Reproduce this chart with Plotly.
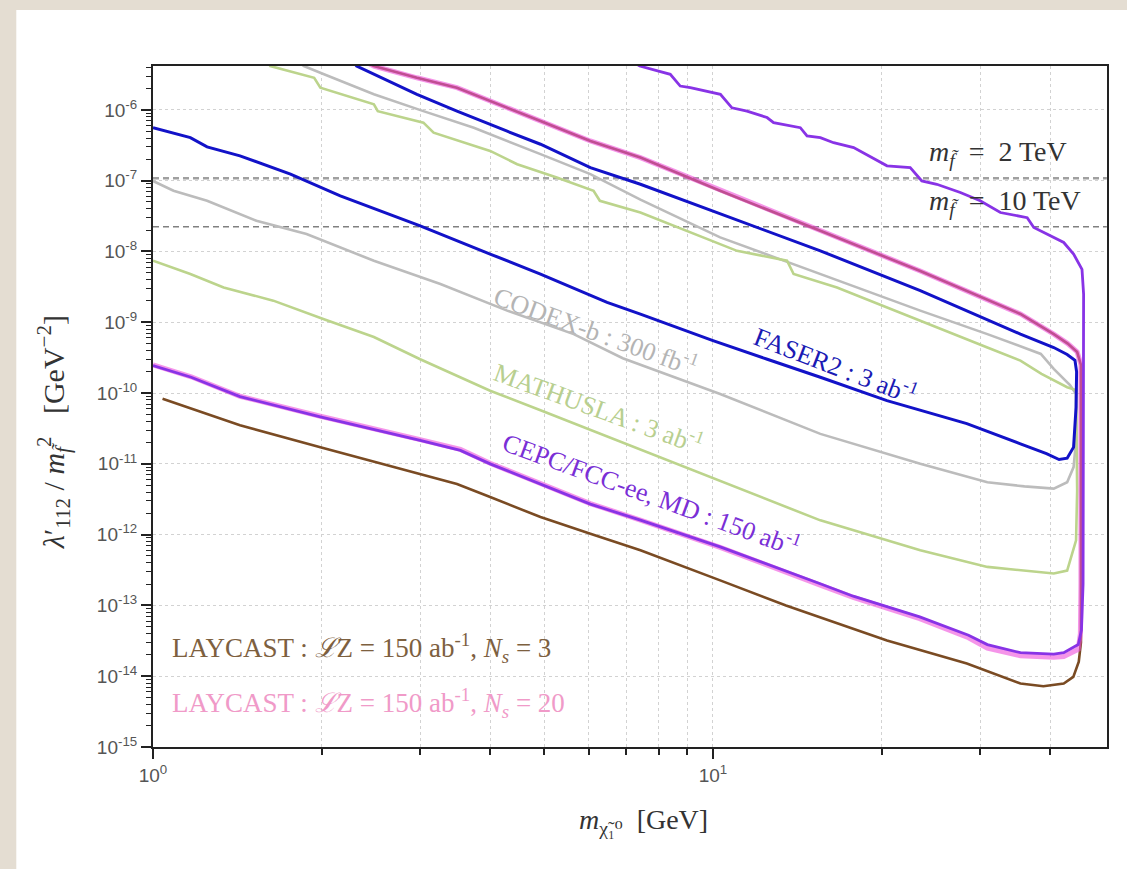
import plotly.graph_objects as go

# ---------------- data (x: neutralino mass [GeV], y: lambda'/m^2 [GeV^-2]) ----------------
# CEPC/FCC-ee, MD : 150 ab^-1 (purple) -- lower and upper branches
CEPC_LO_M = [1.0, 1.17, 1.43, 1.99, 3.0, 3.54, 4.0, 4.92, 6.04, 7.42, 10.3, 15.5, 17.8, 23.4, 28.6, 30.9, 35.4, 40.6, 42.3, 44.9, 45.5, 45.8]
CEPC_LO_Y = [2.44e-10, 1.67e-10, 8.9e-11, 4.6e-11, 2.14e-11, 1.55e-11, 1.0e-11, 5.2e-12, 2.7e-12, 1.6e-12, 6.7e-13, 2.04e-13, 1.35e-13, 6.9e-14, 3.8e-14, 2.8e-14, 2.15e-14, 2.05e-14, 2.15e-14, 2.8e-14, 4.5e-14, 2.0e-13]
CEPC_UP_M = [7.0, 7.40, 8.39, 8.74, 9.11, 10.31, 10.81, 11.5, 12.49, 12.83, 14.32, 14.72, 15.55, 16.42, 17.83, 20.45, 22.5, 23.6, 25.1, 27.65, 30.0, 32.6, 36.4, 37.4, 40.6, 42.3, 44.05, 45.6, 45.9]
CEPC_UP_Y = [5.5e-6, 4.16e-6, 3.18e-6, 2.17e-6, 2.06e-6, 1.66e-6, 1.07e-6, 9.6e-7, 7.8e-7, 6.6e-7, 5.6e-7, 4.3e-7, 4.06e-7, 3.44e-7, 2.93e-7, 1.62e-7, 1.53e-7, 9.9e-8, 8.9e-8, 6.8e-8, 5.2e-8, 3.55e-8, 3.0e-8, 2.18e-8, 1.57e-8, 1.34e-8, 9.2e-9, 5.6e-9, 2.5e-9]

# LAYCAST N_s = 20 (pink)
L20_LO_M = [1.0, 1.17, 1.43, 1.99, 3.0, 3.54, 4.0, 4.92, 6.04, 7.42, 10.3, 15.5, 17.8, 23.4, 28.6, 30.9, 35.4, 40.6, 42.3, 44.9, 45.3, 45.4]
L20_LO_Y = [2.5e-10, 1.7e-10, 9.0e-11, 4.7e-11, 2.2e-11, 1.6e-11, 1.02e-11, 5.3e-12, 2.75e-12, 1.6e-12, 6.6e-13, 1.95e-13, 1.3e-13, 6.5e-14, 3.5e-14, 2.5e-14, 1.95e-14, 1.85e-14, 1.9e-14, 2.4e-14, 4.0e-14, 2.0e-13]
L20_UP_M = [2.3, 2.48, 2.96, 3.49, 4.0, 4.92, 6.04, 7.42, 10.3, 15.55, 23.45, 35.4, 40.6, 43.0, 44.7, 45.4]
L20_UP_Y = [5.6e-6, 4.16e-6, 2.84e-6, 2.06e-6, 1.33e-6, 6.97e-7, 3.64e-7, 2.12e-7, 7.2e-8, 1.96e-8, 5.3e-9, 1.31e-9, 6.8e-10, 5.0e-10, 3.8e-10, 2.5e-10]

# LAYCAST N_s = 3 (brown)
L3_LO_M = [1.04, 1.43, 1.99, 3.0, 3.49, 4.0, 4.92, 6.04, 7.42, 10.3, 13.5, 20.45, 28.4, 35.4, 38.9, 42.3, 44.0, 45.0, 45.4]
L3_LO_Y = [8.3e-11, 3.5e-11, 1.72e-11, 7.2e-12, 5.2e-12, 3.4e-12, 1.77e-12, 1.03e-12, 6.0e-13, 2.26e-13, 1.0e-13, 3.2e-14, 1.51e-14, 7.9e-15, 7.2e-15, 7.9e-15, 9.8e-15, 1.6e-14, 3.0e-14]
L3_UP_M = [2.3, 2.48, 2.96, 3.49, 4.0, 4.92, 6.04, 7.42, 10.3, 15.55, 23.45, 35.4, 40.6, 43.0, 44.7, 45.4]
L3_UP_Y = [5.6e-6, 4.16e-6, 2.84e-6, 2.06e-6, 1.33e-6, 6.97e-7, 3.64e-7, 2.12e-7, 7.2e-8, 1.96e-8, 5.3e-9, 1.31e-9, 6.8e-10, 5.0e-10, 3.8e-10, 2.5e-10]

# FASER2 : 3 ab^-1 (blue)
FASER_LO_M = [1.0, 1.166, 1.249, 1.43, 1.76, 2.16, 3.0, 3.54, 4.0, 4.92, 6.47, 7.42, 10.0, 12.5, 15.55, 20.45, 28.4, 35.4, 39.4, 41.5, 42.9, 44.05, 44.5, 44.6]
FASER_LO_Y = [5.6e-7, 4.06e-7, 3.0e-7, 2.24e-7, 1.24e-7, 6.1e-8, 2.3e-8, 1.34e-8, 9.2e-9, 4.8e-9, 1.91e-9, 1.3e-9, 5.5e-10, 3.0e-10, 1.67e-10, 7.8e-11, 3.7e-11, 1.92e-11, 1.39e-11, 1.15e-11, 1.2e-11, 1.72e-11, 6.3e-11, 2.0e-10]
FASER_UP_M = [2.25, 2.31, 2.48, 2.96, 3.49, 4.29, 4.92, 6.04, 7.42, 10.3, 15.55, 23.45, 35.4, 40.6, 42.9, 44.3, 44.6]
FASER_UP_Y = [5.5e-6, 4.16e-6, 3.18e-6, 1.66e-6, 9.6e-7, 5.0e-7, 3.27e-7, 1.53e-7, 8.9e-8, 3.37e-8, 1.02e-8, 2.8e-9, 6.8e-10, 4.4e-10, 3.5e-10, 2.9e-10, 2.0e-10]

# CODEX-b : 300 fb^-1 (grey)
CODEX_LO_M = [1.0, 1.088, 1.249, 1.53, 1.88, 2.48, 3.26, 4.29, 5.64, 6.9, 10.3, 15.55, 23.45, 30.9, 36.0, 40.6, 42.9, 44.05, 44.5]
CODEX_LO_Y = [9.9e-8, 7.2e-8, 5.2e-8, 2.71e-8, 1.76e-8, 7.4e-9, 3.47e-9, 1.46e-9, 6.8e-10, 3.1e-10, 9.7e-11, 2.65e-11, 1.0e-11, 5.5e-12, 4.8e-12, 4.46e-12, 5.5e-12, 9.0e-12, 2.14e-11]
CODEX_UP_M = [1.78, 1.86, 2.02, 2.48, 3.04, 3.74, 4.92, 6.04, 7.42, 10.3, 15.55, 23.45, 30.9, 38.5, 40.6, 43.4, 44.5]
CODEX_UP_Y = [5.5e-6, 4.16e-6, 3.18e-6, 1.66e-6, 9.6e-7, 5.6e-7, 2.37e-7, 1.24e-7, 5.4e-8, 1.58e-8, 4.8e-9, 1.46e-9, 6.8e-10, 3.57e-10, 2.2e-10, 1.3e-10, 9.7e-11]

# MATHUSLA : 3 ab^-1 (light green)
MATH_LO_M = [1.0, 1.166, 1.337, 1.64, 2.02, 2.48, 3.0, 4.0, 4.92, 7.42, 10.3, 15.55, 23.45, 30.9, 40.6, 42.9, 44.5, 44.7]
MATH_LO_Y = [7.4e-9, 4.8e-9, 3.1e-9, 2.02e-9, 1.1e-9, 6.2e-10, 3.0e-10, 1.08e-10, 5.7e-11, 1.6e-11, 5.8e-12, 1.59e-12, 6.0e-13, 3.5e-13, 2.82e-13, 3.1e-13, 8.3e-13, 4.2e-12]
MATH_UP_M = [1.58, 1.62, 1.94, 1.99, 2.48, 2.52, 3.04, 3.17, 4.0, 4.47, 5.26, 6.12, 6.28, 7.42, 7.83, 8.99, 11.04, 13.56, 13.93, 16.65, 20.45, 25.1, 30.9, 35.4, 38.6, 42.9, 44.5]
MATH_UP_Y = [5.5e-6, 4.16e-6, 2.84e-6, 2.06e-6, 1.2e-6, 9.6e-7, 6.6e-7, 4.76e-7, 2.63e-7, 1.71e-7, 1.11e-7, 7.2e-8, 5.2e-8, 3.55e-8, 3.0e-8, 1.96e-8, 1.02e-8, 7.4e-9, 4.8e-9, 3.1e-9, 1.62e-9, 8.5e-10, 4.4e-10, 2.87e-10, 1.87e-10, 1.21e-10, 1.1e-10]

# reference lines for sfermion masses
DASH_M = [1.0, 50.5]
DASH_2TEV = 1.08e-7
DASH_10TEV = 2.23e-8

# axis ticks
X_TICKVALS = [1, 10]
X_TICKTEXT = ["10<sup>0</sup>", "10<sup>1</sup>"]
Y_EXPS = list(range(-15, -5))
Y_TICKVALS = [10.0 ** e for e in Y_EXPS]
Y_TICKTEXT = ["10<sup>%d</sup>" % e for e in Y_EXPS]
X_MINOR = [2, 3, 4, 5, 6, 7, 8, 9, 20, 30, 40]
Y_MINOR = [d * 10.0 ** e for e in range(-15, -5) for d in range(2, 10)]


def contour(lo_m, lo_y, up_m, up_y):
    return lo_m + up_m[::-1], lo_y + up_y[::-1]


fig = go.Figure()

for yv, col, w in [(DASH_2TEV, "#a0a0a0", 2.4), (DASH_10TEV, "#808080", 1.6)]:
    fig.add_trace(go.Scatter(x=DASH_M, y=[yv, yv], mode="lines",
                             line=dict(color=col, width=w, dash="6px,4px"),
                             showlegend=False, hoverinfo="skip"))

series = [
    (CODEX_LO_M, CODEX_LO_Y, CODEX_UP_M, CODEX_UP_Y, "#bcbcbc", 2.6, 1.0),
    (MATH_LO_M, MATH_LO_Y, MATH_UP_M, MATH_UP_Y, "#bcd48c", 2.6, 1.0),
    (FASER_LO_M, FASER_LO_Y, FASER_UP_M, FASER_UP_Y, "#1212c8", 3.0, 1.0),
    (L3_LO_M, L3_LO_Y, L3_UP_M, L3_UP_Y, "#7a4b23", 2.6, 1.0),
    (L20_LO_M, L20_LO_Y, L20_UP_M, L20_UP_Y, "#f050dc", 5.0, 0.6),
    (CEPC_LO_M, CEPC_LO_Y, CEPC_UP_M, CEPC_UP_Y, "#8833e6", 2.8, 1.0),
]
for lo_m, lo_y, up_m, up_y, col, w, op in series:
    xs, ys = contour(lo_m, lo_y, up_m, up_y)
    fig.add_trace(go.Scatter(x=xs, y=ys, mode="lines", opacity=op,
                             line=dict(color=col, width=w),
                             showlegend=False, hoverinfo="skip"))

SERIF = "Liberation Serif, Times New Roman, DejaVu Serif, serif"

labels = [
    ("CODEX-b : 300 fb<sup>-1</sup>", 0.7916, -9.119, "#b4b4b4", 20),
    ("FASER2 : 3 ab<sup>-1</sup>", 1.2184, -9.598, "#1a1ab4", 21),
    ("MATHUSLA : 3 ab<sup>-1</sup>", 0.797, -10.205, "#b8cf90", 20),
    ("CEPC/FCC-ee, MD : 150 ab<sup>-1</sup>", 0.890, -11.418, "#7a2fd6", 20),
]
for txt, lx, ly, col, ang in labels:
    fig.add_annotation(x=lx, y=ly, xref="x", yref="y", text=txt, showarrow=False,
                       textangle=ang, xanchor="center", yanchor="middle",
                       font=dict(family=SERIF, size=26, color=col))

fig.add_annotation(x=1.383, y=-6.622, xref="x", yref="y",
                   text="<i>m</i><sub><i>f̃</i></sub>  =  2 TeV", showarrow=False,
                   xanchor="left", yanchor="middle", font=dict(family=SERIF, size=28, color="#333333"))
fig.add_annotation(x=1.383, y=-7.313, xref="x", yref="y",
                   text="<i>m</i><sub><i>f̃</i></sub>  =  10 TeV", showarrow=False,
                   xanchor="left", yanchor="middle", font=dict(family=SERIF, size=28, color="#333333"))

fig.add_annotation(x=0.0309, y=-13.604, xref="x", yref="y",
                   text="LAYCAST : <i>ℒ</i>Z = 150 ab<sup>-1</sup>, <i>N</i><sub><i>s</i></sub> = 3",
                   showarrow=False, xanchor="left", yanchor="middle",
                   font=dict(family=SERIF, size=27, color="#7d603f"))
fig.add_annotation(x=0.0309, y=-14.379, xref="x", yref="y",
                   text="LAYCAST : <i>ℒ</i>Z = 150 ab<sup>-1</sup>, <i>N</i><sub><i>s</i></sub> = 20",
                   showarrow=False, xanchor="left", yanchor="middle",
                   font=dict(family=SERIF, size=27, color="#f09ac8"))

# axis titles
fig.add_annotation(x=0.514, y=-0.110, xref="paper", yref="paper",
                   text="<i>m</i><sub>χ̃₁⁰</sub>  [GeV]", showarrow=False,
                   xanchor="center", yanchor="middle", font=dict(family=SERIF, size=28, color="#333333"))
fig.add_annotation(x=-0.1035, y=0.4626, xref="paper", yref="paper",
                   text="<i>λ</i>′<sub>112</sub> / <i>m</i><sub><i>f̃</i></sub><sup>2</sup>   [GeV<sup>−2</sup>]",
                   showarrow=False, textangle=-90, xanchor="center", yanchor="middle",
                   font=dict(family=SERIF, size=30, color="#333333"))

# beige frame bands
BEIGE = "#e4ddd2"
fig.add_shape(type="rect", xref="paper", yref="paper", x0=-0.161, x1=1.03, y0=1.0822, y1=1.1,
              fillcolor=BEIGE, line=dict(width=0), layer="below")
fig.add_shape(type="rect", xref="paper", yref="paper", x0=-0.161, x1=-0.1433, y0=-0.185, y1=1.1,
              fillcolor=BEIGE, line=dict(width=0), layer="below")

grid_col = "#d2d2d2"
fig.update_xaxes(type="log", range=[0, 1.7036], tickmode="array", tickvals=X_TICKVALS, ticktext=X_TICKTEXT,
                 ticks="outside", ticklen=10, tickwidth=2, tickcolor="#222",
                 showline=True, linecolor="#222", linewidth=2, mirror=True,
                 showgrid=True, gridcolor=grid_col, griddash="dot", gridwidth=1,
                 tickfont=dict(family="Arial, Liberation Sans, sans-serif", size=19, color="#555"),
                 minor=dict(tickmode="array", tickvals=X_MINOR, ticks="outside", ticklen=6,
                            tickcolor="#222", tickwidth=1.5, showgrid=True, gridcolor=grid_col,
                            griddash="dot", gridwidth=1),
                 zeroline=False)
fig.update_yaxes(type="log", range=[-15, -5.38], tickmode="array", tickvals=Y_TICKVALS, ticktext=Y_TICKTEXT,
                 ticks="outside", ticklen=10, tickwidth=2, tickcolor="#222",
                 showline=True, linecolor="#222", linewidth=2, mirror=True,
                 showgrid=True, gridcolor=grid_col, griddash="dot", gridwidth=1,
                 tickfont=dict(family="Arial, Liberation Sans, sans-serif", size=19, color="#555"),
                 minor=dict(tickmode="array", tickvals=Y_MINOR, ticks="outside", ticklen=5,
                            tickcolor="#222", tickwidth=1.2, showgrid=False),
                 zeroline=False)

fig.update_layout(width=1127, height=869, autosize=False,
                  margin=dict(l=153, r=20, t=66, b=122, pad=0),
                  paper_bgcolor="white", plot_bgcolor="white",
                  showlegend=False)

fig.write_html("out.html")
